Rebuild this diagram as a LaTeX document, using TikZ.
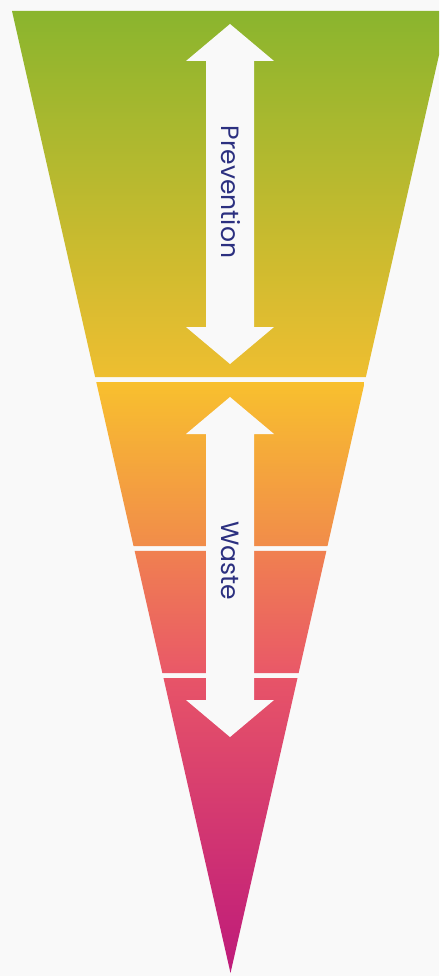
\documentclass[tikz,border=0pt]{standalone}
\usepackage{fontspec}
\setmainfont{Poppins}
\usetikzlibrary{calc}
\definecolor{bg}{RGB}{249,249,249}
\definecolor{navy}{RGB}{44,48,128}
\definecolor{cA}{RGB}{138,181,46}
\definecolor{cB}{RGB}{238,190,48}
\definecolor{cC}{RGB}{248,192,46}
\definecolor{cD}{RGB}{241,140,74}
\definecolor{cE}{RGB}{240,128,80}
\definecolor{cF}{RGB}{233,88,104}
\definecolor{cG}{RGB}{231,84,104}
\definecolor{cH}{RGB}{190,26,122}
\tikzset{
  band/.style={draw=none},
  arrowshape/.style={fill=bg,draw=none},
  lbl/.style={font=\fontsize{25}{30}\selectfont, rotate=-90, text=navy, inner sep=0pt}
}
\begin{document}
\begin{tikzpicture}[x=1pt,y=-1pt]
\fill[bg] (0,0) rectangle (439,976);
\useasboundingbox (0,0) rectangle (439,976);
\clip (0,0) rectangle (439,976);
\coordinate (TL) at (12,11);
\coordinate (TR) at (449,11);
\coordinate (AP) at (230.5,973);
% band boundaries
\foreach \n/\t in {a/0.38046,b/0.38566,c/0.55613,d/0.56133,e/0.68815,f/0.69335}{
  \coordinate (L\n) at ($(TL)!\t!(AP)$);
  \coordinate (R\n) at ($(TR)!\t!(AP)$);
}
\path[band, top color=cA, bottom color=cB] (TL) -- (TR) -- (Ra) -- (La) -- cycle;
\path[band, top color=cC, bottom color=cD] (Lb) -- (Rb) -- (Rc) -- (Lc) -- cycle;
\path[band, top color=cE, bottom color=cF] (Ld) -- (Rd) -- (Re) -- (Le) -- cycle;
\path[band, top color=cG, bottom color=cH] (Lf) -- (Rf) -- (AP) -- cycle;
% arrows
\fill[arrowshape] (230,24) -- (274,61) -- (254,61) -- (254,327) -- (274,327) -- (230,364)
  -- (186,327) -- (206,327) -- (206,61) -- (186,61) -- cycle;
\fill[arrowshape] (230,397) -- (274,434) -- (254,434) -- (254,700) -- (274,700) -- (230,737)
  -- (186,700) -- (206,700) -- (206,434) -- (186,434) -- cycle;
\node[lbl] (prev) at (230.5,192) {Prevention};
\node[lbl] (waste) at (230.5,561) {Waste};
\end{tikzpicture}
\end{document}
